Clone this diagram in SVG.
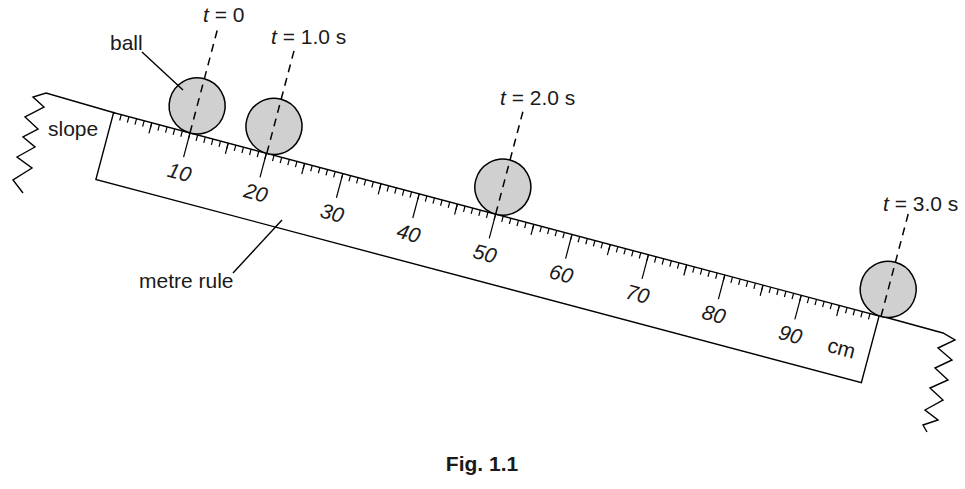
<svg xmlns="http://www.w3.org/2000/svg" width="965" height="489" viewBox="0 0 965 489">
<style>
.ln{stroke:#000;stroke-width:1.4;fill:none}
.tk{stroke:#000;stroke-width:1.2}
.ball{fill:#d0d0d0;stroke:#000;stroke-width:1.5}
.dash{stroke:#000;stroke-width:1.5;stroke-dasharray:8 6;fill:none}
text{font-family:"Liberation Sans",Arial,sans-serif;font-size:21px;fill:#1a1a1a}
.num{font-style:italic;text-anchor:middle;font-size:20px}
</style>
<rect width="965" height="489" fill="#fff"/>
<g id="slope">
<polyline class="ln" points="23,193 13,180 32,168 17,157 35,147 23,137 38,129 25,117 44,107 33,97 46,93 115,113"/>
<polyline class="ln" points="881,316 943,333 955,340 938,348 952,360 935,368 948,380 930,388 943,400 925,410 938,420 923,425 927,432"/>
</g>
<g id="rule" transform="translate(113.6,112.7) rotate(14.87)">
<rect x="0" y="0" width="792" height="69" class="ln"/>
<line x1="7.3" y1="3" x2="783.2" y2="3" stroke="#000" stroke-width="6" stroke-dasharray="1.2 6.705"/>
<g class="tk">
<line x1="39.5" y1="0" x2="39.5" y2="11"/><line x1="118.6" y1="0" x2="118.6" y2="11"/><line x1="197.6" y1="0" x2="197.6" y2="11"/><line x1="276.7" y1="0" x2="276.7" y2="11"/><line x1="355.7" y1="0" x2="355.7" y2="11"/><line x1="434.8" y1="0" x2="434.8" y2="11"/><line x1="513.8" y1="0" x2="513.8" y2="11"/><line x1="592.9" y1="0" x2="592.9" y2="11"/><line x1="671.9" y1="0" x2="671.9" y2="11"/><line x1="751" y1="0" x2="751" y2="11"/>
<line x1="79.05" y1="0" x2="79.05" y2="25"/><line x1="158.1" y1="0" x2="158.1" y2="25"/><line x1="237.2" y1="0" x2="237.2" y2="25"/><line x1="316.2" y1="0" x2="316.2" y2="25"/><line x1="395.3" y1="0" x2="395.3" y2="25"/><line x1="474.3" y1="0" x2="474.3" y2="25"/><line x1="553.4" y1="0" x2="553.4" y2="25"/><line x1="632.4" y1="0" x2="632.4" y2="25"/><line x1="711.5" y1="0" x2="711.5" y2="25"/>
</g>
<g class="num">
<text x="79" y="48">10</text><text x="158" y="48">20</text><text x="237" y="48">30</text><text x="316" y="48">40</text><text x="395" y="48">50</text><text x="474" y="48">60</text><text x="553" y="48">70</text><text x="632" y="48">80</text><text x="711" y="48">90</text>
</g>
<text x="764" y="48" text-anchor="middle" font-size="20">cm</text>
<g id="balls">
<circle class="ball" cx="79" cy="-28" r="28"/>
<circle class="ball" cx="158.5" cy="-28" r="28"/>
<circle class="ball" cx="395.3" cy="-28" r="28"/>
<circle class="ball" cx="794" cy="-28" r="28"/>
</g>
<g id="markers">
<line class="dash" x1="79" y1="0" x2="79" y2="-108"/>
<line class="dash" x1="158.5" y1="0" x2="158.5" y2="-108"/>
<line class="dash" x1="395.3" y1="0" x2="395.3" y2="-107"/>
<line class="dash" x1="794" y1="0" x2="794" y2="-107"/>
</g>
</g>
<g id="labels">
<text x="203" y="22"><tspan font-style="italic">t</tspan> = 0</text>
<text x="271" y="44"><tspan font-style="italic">t</tspan> = 1.0 s</text>
<text x="500" y="105"><tspan font-style="italic">t</tspan> = 2.0 s</text>
<text x="883" y="211"><tspan font-style="italic">t</tspan> = 3.0 s</text>
<text x="110" y="50">ball</text>
<line class="ln" stroke-width="1" x1="142" y1="52" x2="183" y2="90"/>
<text x="48" y="136">slope</text>
<text x="139" y="288">metre rule</text>
<line class="ln" stroke-width="1" x1="233" y1="273" x2="282" y2="220"/>
<text x="482" y="471" text-anchor="middle" font-weight="bold" font-size="18">Fig. 1.1</text>
</g>
</svg>
